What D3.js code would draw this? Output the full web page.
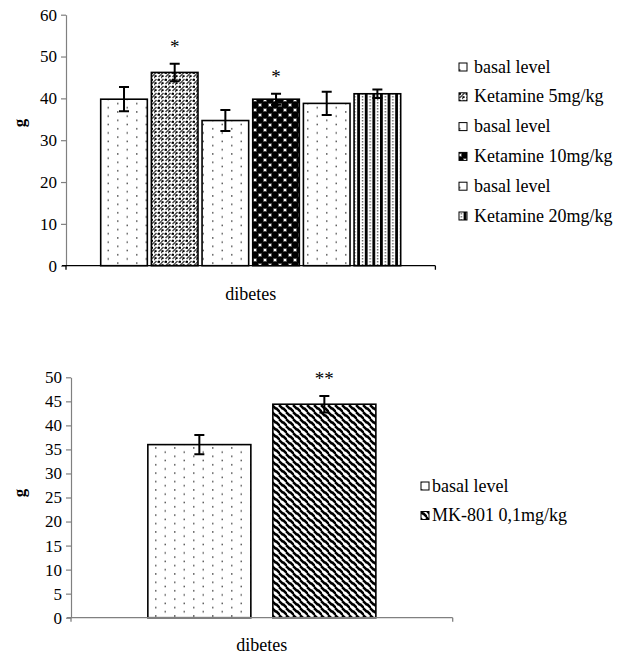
<!DOCTYPE html>
<html>
<head>
<meta charset="utf-8">
<script src="https://cdn.jsdelivr.net/npm/d3@7"></script>
</head>
<body style="margin:0;background:#fff">
<div id="root"></div>
<script>
// top chart: ketamine doses
const category = ["dibetes"];
const topSeries = ["basal level", "Ketamine 5mg/kg", "basal level", "Ketamine 10mg/kg", "basal level", "Ketamine 20mg/kg"];
const topMeans = [39.8, 46.2, 34.7, 39.8, 38.8, 41.1];
const topErrors = [2.9, 2.1, 2.5, 1.3, 2.8, 1.0];
const topMarks = ["", "*", "", "*", "", ""];
const topPatternOrder = ["dots", "mottle", "dots", "checker", "dots", "vstripe"];
const topTicks = [0, 10, 20, 30, 40, 50, 60];

// bottom chart: MK-801
const bottomSeries = ["basal level", "MK-801 0,1mg/kg"];
const bottomMeans = [36.0, 44.4];
const bottomErrors = [2.0, 1.7];
const bottomMarks = ["", "**"];
const bottomPatternOrder = ["dots", "zigzag"];
const bottomTicks = [0, 5, 10, 15, 20, 25, 30, 35, 40, 45, 50];

const W = 627, H = 657;
const FONT = "Liberation Serif";
const svg = d3.select("#root").append("svg")
  .attr("width", W).attr("height", H);

const defs = svg.append("defs");

function pattern(id, w, h) {
  const p = defs.append("pattern").attr("id", id)
    .attr("patternUnits", "userSpaceOnUse")
    .attr("width", w).attr("height", h);
  p.append("rect").attr("width", w).attr("height", h).attr("fill", "#fff");
  return p;
}

// sparse staggered dots
const pDots = pattern("dots", 19, 8.4);
pDots.append("rect").attr("x", 3).attr("y", 2).attr("width", 1.5).attr("height", 1.5).attr("fill", "#555");
pDots.append("rect").attr("x", 12.5).attr("y", 6.2).attr("width", 1.5).attr("height", 1.5).attr("fill", "#555");

// gray mottle with black dots
const pMot = pattern("mottle", 7, 7);
pMot.append("path").attr("d", "M0,4.5 L2.5,2 M4.5,0 L7,-2.5 M4.5,7 L7,4.5 M3.5,3.5 L5,2 M0,1 L1,0")
  .attr("stroke", "#444").attr("stroke-width", 1.5);
pMot.append("rect").attr("x", 0.4).attr("y", 5.2).attr("width", 2.2).attr("height", 2.2).attr("fill", "#000");
pMot.append("rect").attr("x", 4).attr("y", 1.8).attr("width", 2).attr("height", 2).attr("fill", "#000");

// big diamond checker
const pChk = pattern("checker", 10, 10);
[[0, 0], [10, 0], [0, 10], [10, 10], [5, 5]].forEach(([cx, cy]) => {
  pChk.append("circle").attr("cx", cx).attr("cy", cy).attr("r", 3.7).attr("fill", "#000");
});

// vertical stripes
const pVs = pattern("vstripe", 7.6, 3);
pVs.append("rect").attr("x", 0).attr("y", 0).attr("width", 2.8).attr("height", 3).attr("fill", "#000");
pVs.append("rect").attr("x", 4.6).attr("y", 0).attr("width", 1.4).attr("height", 1.5).attr("fill", "#666");

// diagonal zigzag
const pZz = pattern("zigzag", 7, 7);
pZz.append("path").attr("d", "M-1,-1 L2.5,2.5 L3.5,2.5 L8,7 M-1,6 L1,8 M6,-1 L8,1")
  .attr("stroke", "#000").attr("stroke-width", 2.6).attr("fill", "none");

function drawChart(cfg) {
  const { series, means, errors, marks, fills, ticks, yMax, left, right, top, bottom,
          outerPad, innerPad, labelPad, legendX, legendY, legendStep, legendGap,
          titleY, xAxisColor } = cfg;

  const x0 = d3.scaleBand().domain(category).range([left, right])
    .paddingInner(0).paddingOuter(outerPad);
  const x1 = d3.scaleBand().domain(d3.range(series.length))
    .range([0, x0.bandwidth()]).paddingInner(innerPad).paddingOuter(0);
  const y = d3.scaleLinear().domain([0, yMax]).range([bottom, top]);

  const g = svg.append("g");

  // y axis
  const yAxis = g.append("g").attr("transform", `translate(${left},0)`)
    .call(d3.axisLeft(y).tickValues(ticks).tickSize(5).tickSizeOuter(0).tickPadding(4));
  yAxis.attr("font-family", null).attr("font-size", null);
  yAxis.selectAll("path, line").attr("stroke", "#808080").attr("stroke-width", 1.2);
  yAxis.selectAll("text").attr("font-family", FONT).attr("font-size", 17).attr("fill", "#000");

  // bars
  const cx = x0(category[0]);
  series.forEach((s, i) => {
    const bx = cx + x1(i);
    g.append("rect")
      .attr("x", bx).attr("y", y(means[i]))
      .attr("width", x1.bandwidth()).attr("height", y(0) - y(means[i]))
      .attr("fill", `url(#${fills[i]})`)
      .attr("stroke", "#000").attr("stroke-width", 1.6);

    const mx = bx + x1.bandwidth() / 2;
    const hi = y(means[i] + errors[i]), lo = y(means[i] - errors[i]);
    g.append("path")
      .attr("d", `M${mx},${hi}V${lo}M${mx - 5},${hi}H${mx + 5}M${mx - 5},${lo}H${mx + 5}`)
      .attr("stroke", "#000").attr("stroke-width", 2).attr("fill", "none");

    if (marks[i]) {
      g.append("text").attr("x", mx).attr("y", hi - 11)
        .attr("text-anchor", "middle")
        .attr("font-family", FONT).attr("font-size", 19).text(marks[i]);
    }
  });

  // x axis
  const xAxis = g.append("g").attr("transform", `translate(0,${y(0)})`)
    .call(d3.axisBottom(x0).tickSize(0).tickPadding(labelPad));
  xAxis.attr("font-family", null).attr("font-size", null);
  xAxis.select(".domain").remove();
  xAxis.selectAll("text").attr("font-family", FONT).attr("font-size", 18).attr("fill", "#000");
  g.append("path")
    .attr("d", `M${left - 4},${y(0)}H${right}M${left},${y(0)}v4M${right},${y(0)}v4`)
    .attr("stroke", xAxisColor).attr("stroke-width", 1.3);

  // y title
  g.append("text")
    .attr("transform", `translate(25,${titleY}) rotate(-90)`)
    .attr("text-anchor", "middle")
    .attr("font-family", FONT).attr("font-size", 17).attr("font-weight", "bold")
    .text("g");

  // legend
  series.forEach((s, i) => {
    const ly = legendY + i * legendStep;
    g.append("rect").attr("x", legendX).attr("y", ly - 4)
      .attr("width", 8).attr("height", 8)
      .attr("fill", `url(#${fills[i]})`).attr("stroke", "#000").attr("stroke-width", 1);
    g.append("text").attr("x", legendX + legendGap).attr("y", ly + 5.5)
      .attr("font-family", FONT).attr("font-size", 18).text(s);
  });
}

drawChart({
  series: topSeries, means: topMeans, errors: topErrors, marks: topMarks,
  fills: topPatternOrder, ticks: topTicks, yMax: 60,
  left: 66, right: 435.4, top: 14.7, bottom: 265.7,
  outerPad: 0.1157, innerPad: 0.08, labelPad: 22,
  legendX: 459, legendY: 67, legendStep: 29.8, legendGap: 15,
  titleY: 123, xAxisColor: "#000"
});

drawChart({
  series: bottomSeries, means: bottomMeans, errors: bottomErrors, marks: bottomMarks,
  fills: bottomPatternOrder, ticks: bottomTicks, yMax: 50,
  left: 71, right: 452.7, top: 377.3, bottom: 617.7,
  outerPad: 0.337, innerPad: 0.176, labelPad: 21,
  legendX: 421, legendY: 486, legendStep: 29.5, legendGap: 11,
  titleY: 493, xAxisColor: "#808080"
});
</script>
</body>
</html>
